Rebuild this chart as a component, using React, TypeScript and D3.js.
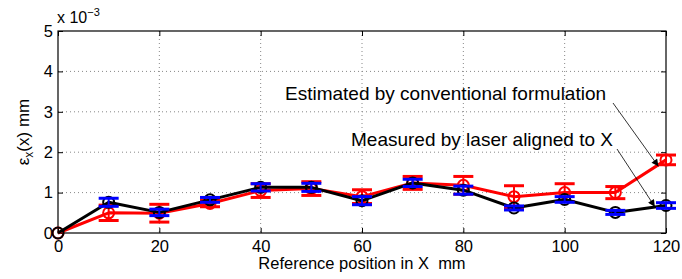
import { useEffect, useRef } from "react";
import * as d3 from "d3";

// Reference positions along X (mm)
const POSITIONS = [0, 10, 20, 30, 40, 50, 60, 70, 80, 90, 100, 110, 120];

// Measured by laser (x 10^-3 mm) and its error
const MEASURED = [0, 0.76, 0.51, 0.82, 1.13, 1.13, 0.8, 1.24, 1.06, 0.62, 0.83, 0.51, 0.68];
const MEASURED_ERR = [0, 0.1, 0.08, 0.06, 0.09, 0.1, 0.1, 0.09, 0.1, 0.05, 0.07, 0.05, 0.07];

// Estimated by conventional formulation and its error
const ESTIMATED = [0, 0.5, 0.49, 0.73, 1.05, 1.1, 0.9, 1.24, 1.18, 0.9, 1.0, 1.0, 1.81];
const ESTIMATED_ERR = [0, 0.19, 0.22, 0.08, 0.17, 0.17, 0.17, 0.16, 0.22, 0.27, 0.22, 0.15, 0.12];

const X_TICKS = [0, 20, 40, 60, 80, 100, 120];
const Y_TICKS = [0, 1, 2, 3, 4, 5];

const FONT = "Liberation Sans, Arial, sans-serif";

export default function App() {
  const svgRef = useRef<SVGSVGElement | null>(null);

  useEffect(() => {
    const width = 682;
    const height = 279;
    const margin = { top: 31, right: 16, bottom: 46, left: 58 };
    const innerW = width - margin.left - margin.right;
    const innerH = height - margin.top - margin.bottom;

    const svg = d3.select(svgRef.current);
    svg.selectAll("*").remove();
    svg.attr("width", width).attr("height", height);

    const defs = svg.append("defs");
    defs.append("marker")
      .attr("id", "arrow")
      .attr("viewBox", "0 0 10 10")
      .attr("refX", 10).attr("refY", 5)
      .attr("markerWidth", 9).attr("markerHeight", 7)
      .attr("markerUnits", "userSpaceOnUse")
      .attr("orient", "auto")
      .append("path")
      .attr("d", "M0,0 L10,5 L0,10 z")
      .attr("fill", "#000");

    const g = svg.append("g")
      .attr("transform", `translate(${margin.left},${margin.top})`);

    const x = d3.scaleLinear().domain([0, 120]).range([0, innerW]);
    const y = d3.scaleLinear().domain([0, 5]).range([innerH, 0]);

    // ----- grid -----
    g.append("g").selectAll("line")
      .data(X_TICKS.slice(1, -1))
      .join("line")
      .attr("x1", (d) => x(d)).attr("x2", (d) => x(d))
      .attr("y1", 0).attr("y2", innerH)
      .attr("stroke", "#888").attr("stroke-width", 1)
      .attr("stroke-dasharray", "1,3");
    g.append("g").selectAll("line")
      .data(Y_TICKS.slice(1, -1))
      .join("line")
      .attr("x1", 0).attr("x2", innerW)
      .attr("y1", (d) => y(d)).attr("y2", (d) => y(d))
      .attr("stroke", "#888").attr("stroke-width", 1)
      .attr("stroke-dasharray", "1,3");

    // ----- axes (box with inward ticks) -----
    const fmt = d3.format("d");
    const xAxis = g.append("g")
      .attr("transform", `translate(0,${innerH})`)
      .call(d3.axisBottom(x).tickValues(X_TICKS).tickFormat((d) => fmt(d as number)).tickSize(-5).tickPadding(7));
    g.append("g")
      .call(d3.axisTop(x).tickValues(X_TICKS).tickSize(-5).tickFormat(() => ""));
    const yAxis = g.append("g")
      .call(d3.axisLeft(y).tickValues(Y_TICKS).tickFormat((d) => fmt(d as number)).tickSize(-5).tickPadding(5));
    g.append("g")
      .attr("transform", `translate(${innerW},0)`)
      .call(d3.axisRight(y).tickValues(Y_TICKS).tickSize(-5).tickFormat(() => ""));

    g.selectAll(".tick line").attr("stroke", "#000");
    [xAxis, yAxis].forEach((a) =>
      a.selectAll("text").attr("font-family", FONT).attr("font-size", 16.5).attr("fill", "#000"));
    xAxis.selectAll("text").attr("dy", "0.72em");
    g.selectAll(".domain").remove();
    g.append("rect")
      .attr("width", innerW).attr("height", innerH)
      .attr("fill", "none").attr("stroke", "#000").attr("stroke-width", 1.2);

    // ----- series -----
    const data = POSITIONS.map((p, i) => ({
      p,
      m: MEASURED[i], me: MEASURED_ERR[i],
      e: ESTIMATED[i], ee: ESTIMATED_ERR[i],
    }));

    const cap = 10;

    const drawBars = (key: "m" | "e", errKey: "me" | "ee", color: string) => {
      const bars = g.append("g")
        .attr("stroke", color).attr("stroke-width", 3).attr("fill", "none");
      data.filter((d) => d[errKey] > 0).forEach((d) => {
        const top = y(d[key] + d[errKey]);
        const bot = y(d[key] - d[errKey]);
        const cx = x(d.p);
        bars.append("line").attr("x1", cx).attr("x2", cx).attr("y1", top).attr("y2", bot).attr("stroke-width", 2);
        bars.append("line").attr("x1", cx - cap).attr("x2", cx + cap).attr("y1", top).attr("y2", top);
        bars.append("line").attr("x1", cx - cap).attr("x2", cx + cap).attr("y1", bot).attr("y2", bot);
      });
    };

    const drawLine = (key: "m" | "e", color: string) => {
      g.append("path")
        .datum(data)
        .attr("fill", "none")
        .attr("stroke", color)
        .attr("stroke-width", 3)
        .attr("stroke-linejoin", "round")
        .attr("d", d3.line<any>().x((d) => x(d.p)).y((d) => y(d[key])));
      g.append("g").selectAll("circle")
        .data(data)
        .join("circle")
        .attr("cx", (d) => x(d.p)).attr("cy", (d) => y(d[key]))
        .attr("r", 5.5)
        .attr("fill", "none")
        .attr("stroke", color)
        .attr("stroke-width", 2);
    };

    // estimated (red)
    drawLine("e", "#ff0000");
    drawBars("e", "ee", "#ff0000");
    // measured (black with blue error bars)
    drawLine("m", "#000");
    drawBars("m", "me", "#0000ff");

    // ----- annotations -----
    const ann = svg.append("g").attr("font-family", FONT).attr("font-size", 19).attr("fill", "#000");
    ann.append("text").attr("x", 285).attr("y", 100).text("Estimated by conventional formulation");
    ann.append("text").attr("x", 351).attr("y", 146).text("Measured by laser aligned to X");

    svg.append("line")
      .attr("x1", 613).attr("y1", 103)
      .attr("x2", margin.left + x(118.5)).attr("y2", margin.top + y(1.65))
      .attr("stroke", "#000").attr("stroke-width", 0.8)
      .attr("marker-end", "url(#arrow)");
    svg.append("line")
      .attr("x1", 617).attr("y1", 149)
      .attr("x2", margin.left + x(117.8)).attr("y2", margin.top + y(0.65))
      .attr("stroke", "#000").attr("stroke-width", 0.8)
      .attr("marker-end", "url(#arrow)");

    // ----- axis labels -----
    svg.append("text")
      .attr("x", margin.left + innerW / 2)
      .attr("y", 269)
      .attr("text-anchor", "middle")
      .attr("font-family", FONT).attr("font-size", 16.5)
      .text("Reference position in X\u00a0\u00a0mm");

    const yl = svg.append("text")
      .attr("transform", `translate(29,${margin.top + innerH / 2}) rotate(-90)`)
      .attr("text-anchor", "middle")
      .attr("font-family", FONT).attr("font-size", 17);
    yl.append("tspan").text("ε");
    yl.append("tspan").attr("dy", 4).attr("font-size", 12).text("x");
    yl.append("tspan").attr("dy", -4).text("(x) mm");

    const exp = svg.append("text")
      .attr("x", 57).attr("y", 23)
      .attr("font-family", FONT).attr("font-size", 16);
    exp.append("tspan").text("x 10");
    exp.append("tspan").attr("dy", -7).attr("font-size", 11).text("−3");
  }, []);

  return (
    <svg ref={svgRef} style={{ position: "absolute", left: 0, top: 0, background: "#fff" }}></svg>
  );
}
